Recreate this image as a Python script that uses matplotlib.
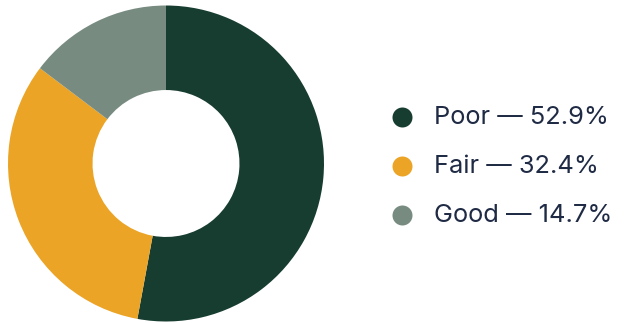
import matplotlib.pyplot as plt

# Data
labels = ["Poor", "Fair", "Good"]
shares = [52.9, 32.4, 14.7]
colors = ["#173d31", "#eba425", "#778b80"]

W, H = 626, 323
fig = plt.figure(figsize=(W / 100, H / 100), dpi=100)

# Donut: center (166, 163.5), outer radius 158 px
cx, cy, r = 166, 163.5, 158
ax = fig.add_axes([(cx - r) / W, (H - cy - r) / H, 2 * r / W, 2 * r / H])
ax.pie(shares, colors=colors, startangle=90, counterclock=False,
       radius=1, wedgeprops=dict(width=0.535, linewidth=0))
ax.set_xlim(-1, 1)
ax.set_ylim(-1, 1)
ax.set_aspect("equal")
ax.axis("off")

# Legend drawn in pixel coordinates
lg = fig.add_axes([0, 0, 1, 1])
lg.set_xlim(0, W)
lg.set_ylim(H, 0)
lg.axis("off")
rows = [116.5, 165.5, 214.5]
for y, lab, val, col in zip(rows, labels, shares, colors):
    lg.scatter([402], [y], s=(20 * 0.72) ** 2, color=col, linewidths=0)
    lg.text(434, y + 1, f"{lab} \u2014 {val:.1f}%", va="center", ha="left",
            fontsize=18.3, color="#1f2a44", family=["Inter", "DejaVu Sans"])

fig.savefig("out.png", dpi=100)
